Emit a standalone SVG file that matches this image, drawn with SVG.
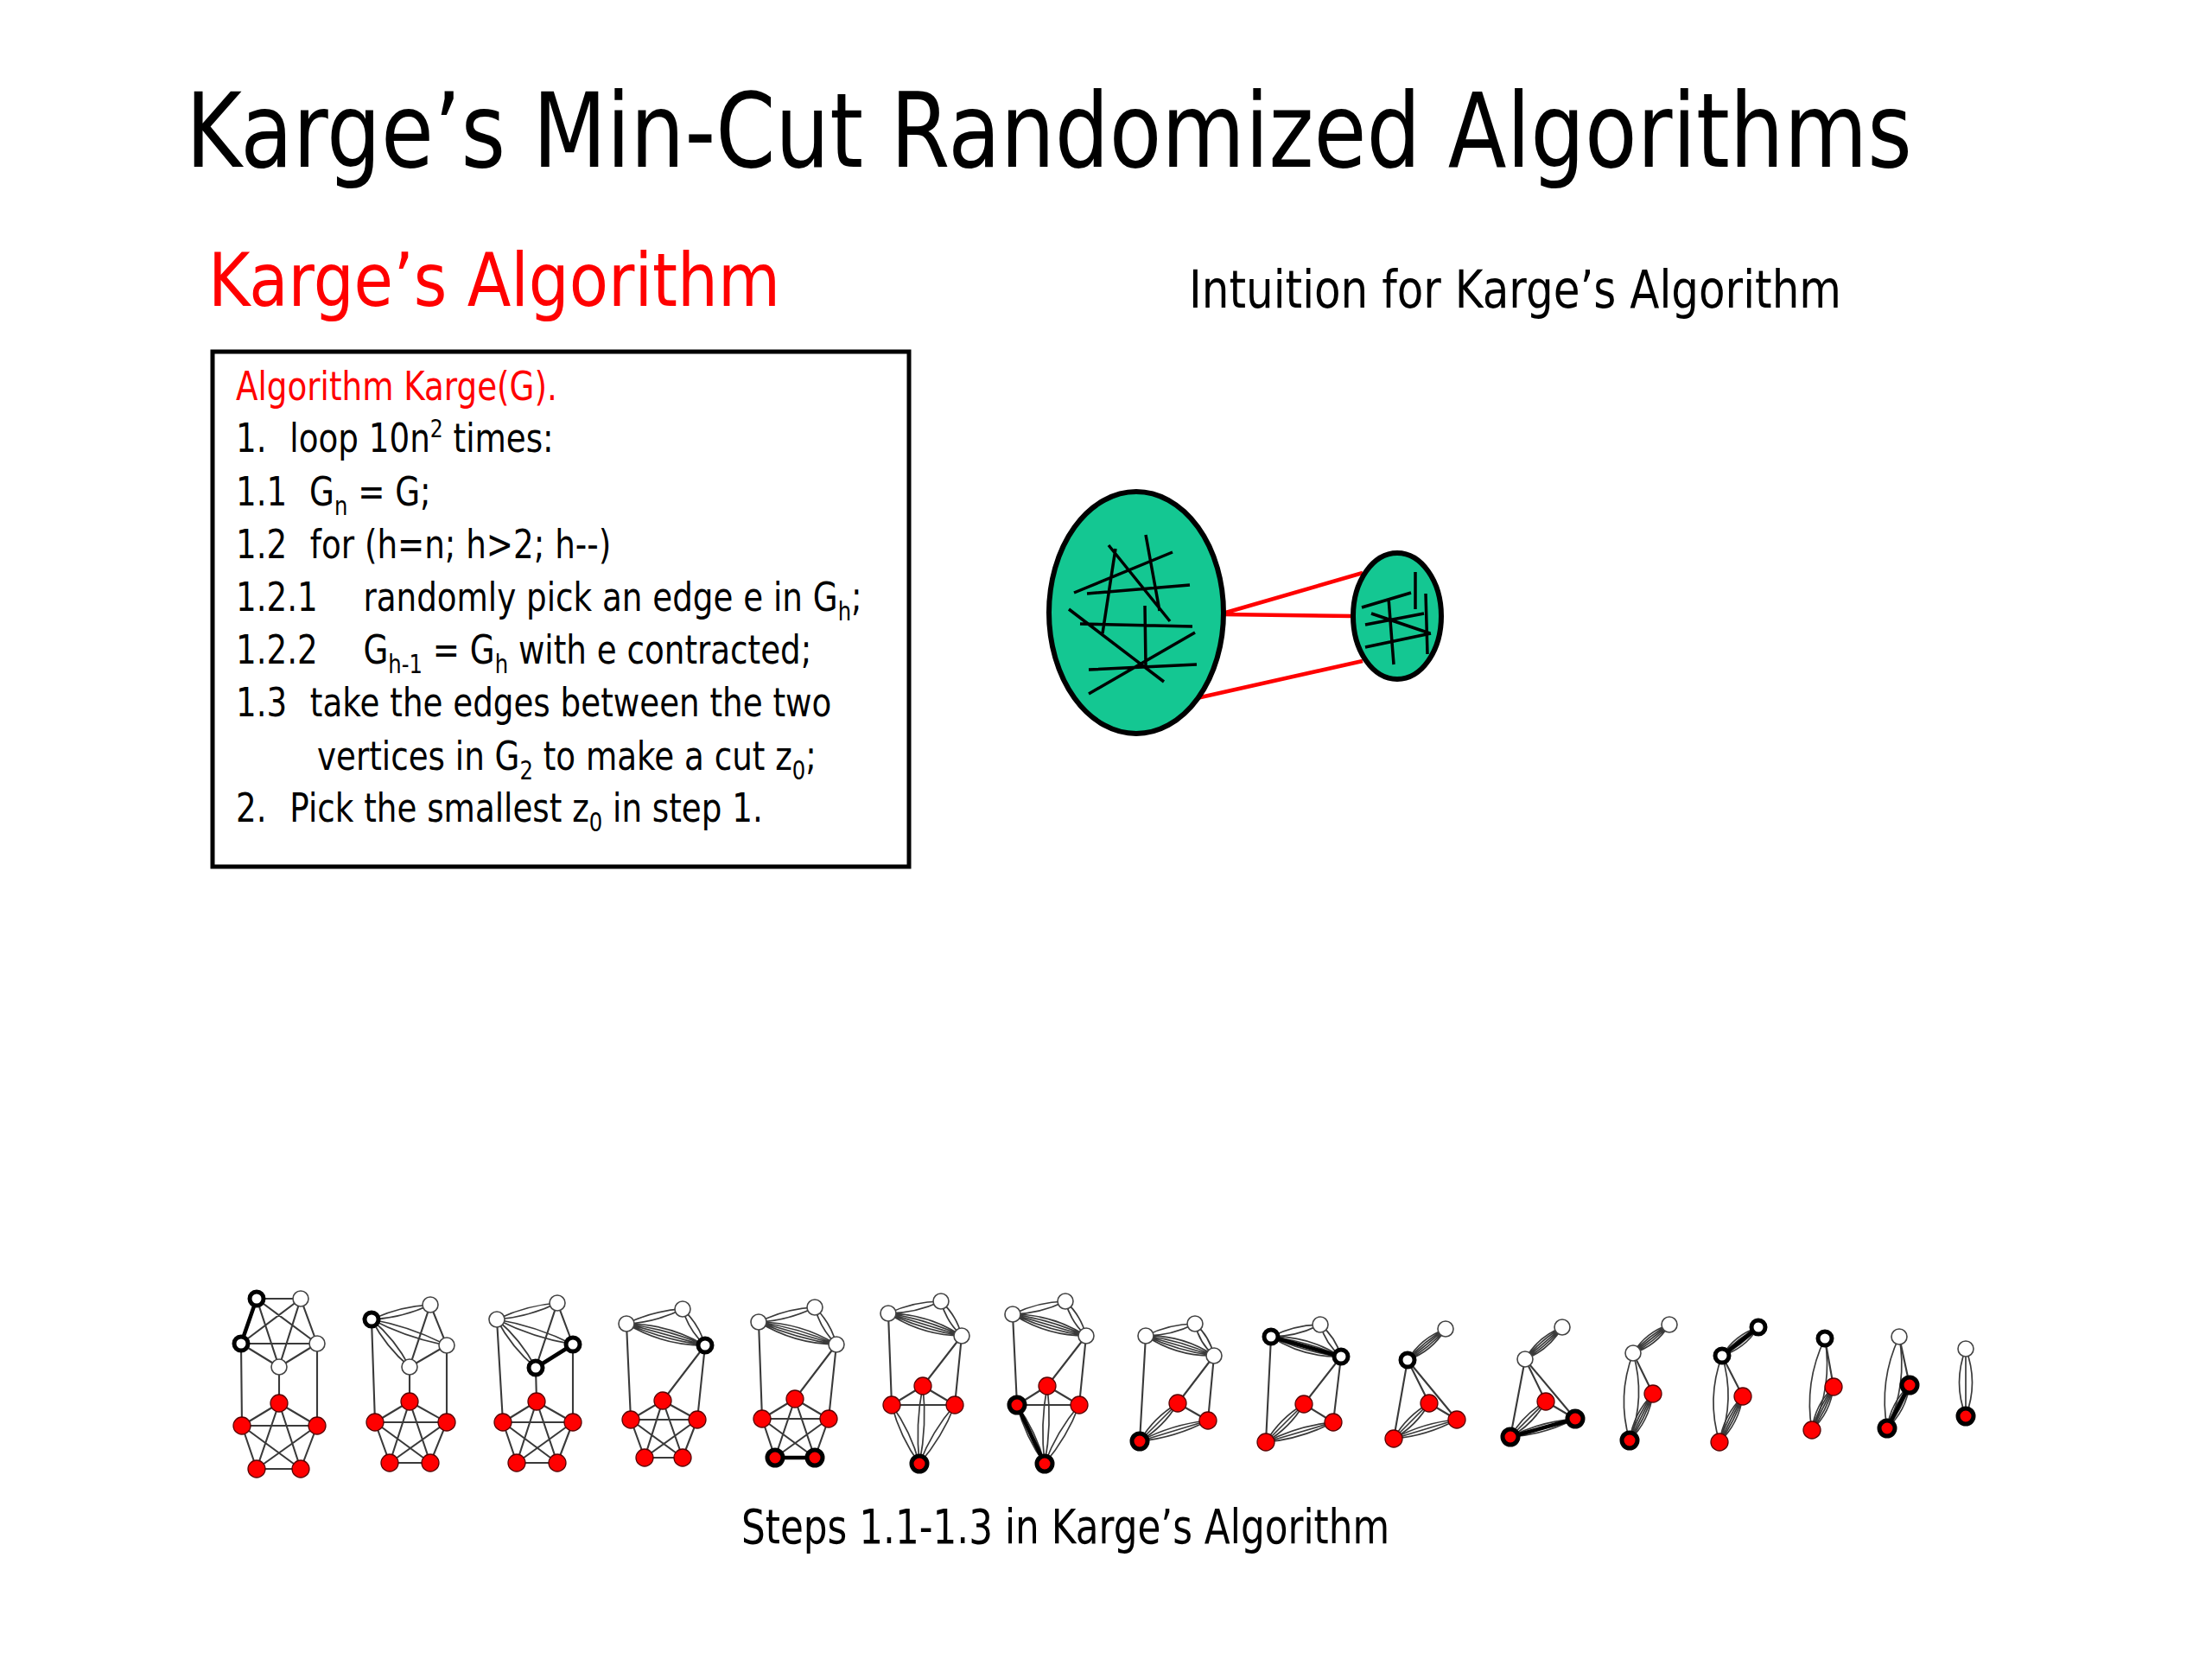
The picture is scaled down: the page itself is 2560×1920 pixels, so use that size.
<svg xmlns="http://www.w3.org/2000/svg" xmlns:xlink="http://www.w3.org/1999/xlink" width="2560" height="1920" viewBox="0 0 2560 1920">
<style>
text { font-family: 'DejaVu Sans', Verdana, sans-serif; }
.title { font-size: 120px; fill: #000; }
.red { fill: #ff0000; }
.box text { font-size: 46px; fill: #000; }
.sub { font-size: 30px; }
.sup { font-size: 29px; }
.e { fill: none; stroke: #3a3a3a; stroke-width: 2.1; }
.t { fill: none; stroke: #000; stroke-width: 4.5; stroke-linecap: round; }
.lp { fill: none; stroke: #3a3a3a; stroke-width: 1.7; vector-effect: non-scaling-stroke; }
.w { fill: #fff; stroke: #444; stroke-width: 1.6; }
.wt { fill: #fff; stroke: #000; stroke-width: 5; }
.r { fill: #ff0000; stroke: #5a0000; stroke-width: 1.3; }
.rt { fill: #ff0000; stroke: #000; stroke-width: 5; }
.scr { stroke: #000; stroke-width: 3.5; fill: none; }
.cut { stroke: #ff0000; stroke-width: 4.5; fill: none; }
.blob { fill: #14c792; stroke: #000; stroke-width: 6; }
</style>
<defs>
<path id="l2" class="lp" d="M0,0Q0.5,-7 1,0M0,0Q0.5,7 1,0"/>
<path id="l3" class="lp" d="M0,0Q0.5,-8 1,0M0,0L1,0M0,0Q0.5,8 1,0"/>
<path id="l4" class="lp" d="M0,0Q0.5,-13 1,0M0,0Q0.5,-6.5 1,0M0,0L1,0M0,0Q0.5,6.5 1,0M0,0Q0.5,13 1,0"/>
<path id="l5" class="lp" d="M0,0Q0.5,-10 1,0M0,0Q0.5,-5 1,0M0,0L1,0M0,0Q0.5,5 1,0M0,0Q0.5,10 1,0"/>
<path id="lw" class="lp" d="M0,0Q0.5,-17 1,0M0,0Q0.5,17 1,0"/>
<path id="lw3" class="lp" d="M0,0Q0.5,-15 1,0M0,0L1,0M0,0Q0.5,15 1,0"/>
</defs>
<rect width="2560" height="1920" fill="#fff"/>

<g id="headings">
<text class="title" transform="translate(215 193) scale(0.826 1)" x="0" y="0">Karge’s Min-Cut Randomized Algorithms</text>
<text class="red" x="241" y="354" font-size="86" textLength="662" lengthAdjust="spacingAndGlyphs">Karge’s Algorithm</text>
<text x="1376" y="356" font-size="60" textLength="755" lengthAdjust="spacingAndGlyphs">Intuition for Karge’s Algorithm</text>
<text x="858" y="1786" font-size="56" textLength="750" lengthAdjust="spacingAndGlyphs">Steps 1.1-1.3 in Karge’s Algorithm</text>
</g>

<g id="algorithm-box" class="box">
<rect x="246" y="407" width="806" height="596" fill="none" stroke="#000" stroke-width="5"/>
<g transform="matrix(0.81 0 0 1 51.87 0)">
<text class="red" x="273" y="463" style="fill:#ff0000">Algorithm Karge(G).</text>
<text x="273" y="523">1.</text>
<text x="350" y="523">loop 10n<tspan class="sup" dy="-17">2</tspan><tspan dy="17"> times:</tspan></text>
<text x="273" y="585">1.1</text>
<text x="378" y="585">G<tspan class="sub" dy="11">n</tspan><tspan dy="-11"> = G;</tspan></text>
<text x="273" y="646">1.2</text>
<text x="379" y="646">for (h=n; h&gt;2; h--)</text>
<text x="273" y="707">1.2.1</text>
<text x="455" y="707">randomly pick an edge e in G<tspan class="sub" dy="11">h</tspan><tspan dy="-11">;</tspan></text>
<text x="273" y="768">1.2.2</text>
<text x="455" y="768">G<tspan class="sub" dy="11">h-1</tspan><tspan dy="-11"> = G</tspan><tspan class="sub" dy="11">h</tspan><tspan dy="-11"> with e contracted;</tspan></text>
<text x="273" y="829">1.3</text>
<text x="379" y="829">take the edges between the two</text>
<text x="389" y="891">vertices in G<tspan class="sub" dy="11">2</tspan><tspan dy="-11"> to make a cut z</tspan><tspan class="sub" dy="11">0</tspan><tspan dy="-11">;</tspan></text>
<text x="273" y="951">2.</text>
<text x="350" y="951">Pick the smallest z<tspan class="sub" dy="11">0</tspan><tspan dy="-11"> in step 1.</tspan></text>
</g>
</g>

<g id="intuition">
<g id="cut-edges">
<path class="cut" d="M1415 710L1577 663M1415 711L1565 713M1385 808L1577 765"/>
</g>
<g id="cluster-large">
<ellipse class="blob" cx="1315" cy="709" rx="101" ry="140"/>
<path class="scr" d="M1243 686L1357 639M1258 687L1377 677M1283 631L1354 719M1291 635L1276 733M1326 619L1342 707M1237 705L1347 789M1250 722L1380 725M1325 701L1326 770M1260 803L1383 732M1260 775L1385 769"/>
</g>
<g id="cluster-small">
<ellipse class="blob" cx="1617" cy="713" rx="51" ry="73"/>
<path class="scr" d="M1576 703L1633 686M1638 662L1638 705M1580 723L1648 710M1587 710L1655 733M1580 749L1656 733M1607 692L1613 769M1650 687L1652 757"/>
</g>
</g>

<g id="connectors">
<!-- graph 1 -->
<path class="e" d="M297 1503L348 1503M297 1503L367 1555M297 1503L323 1582M348 1503L279 1555M348 1503L367 1555M348 1503L323 1582M279 1555L367 1555M279 1555L323 1582M367 1555L323 1582M279 1555L280 1650M367 1555L367 1650M323 1582L323 1624M323 1624L280 1650M323 1624L367 1650M323 1624L297 1700M323 1624L348 1700M280 1650L367 1650M280 1650L297 1700M280 1650L348 1700M367 1650L297 1700M367 1650L348 1700M297 1700L348 1700"/>
<path class="t" d="M297 1503L279 1555"/>
<!-- graph 2 -->
<use href="#l2" transform="translate(430 1527) rotate(-14) scale(70.1 1)"/>
<use href="#l2" transform="translate(430 1527) rotate(19) scale(92 1)"/>
<use href="#l2" transform="translate(430 1527) rotate(51.3) scale(70.4 1)"/>
<path class="e" d="M498 1510L517 1557M498 1510L474 1582M517 1557L474 1582M430 1527L434 1646M517 1557L517 1646M474 1582L474 1622M474 1622L434 1646M474 1622L517 1646M474 1622L451 1693M474 1622L498 1693M434 1646L517 1646M434 1646L451 1693M434 1646L498 1693M517 1646L451 1693M517 1646L498 1693M451 1693L498 1693"/>
<!-- graph 3 -->
<use href="#l2" transform="translate(575 1527) rotate(-15.2) scale(72.5 1)"/>
<use href="#l2" transform="translate(575 1527) rotate(18.2) scale(92.7 1)"/>
<use href="#l2" transform="translate(575 1527) rotate(51.2) scale(71.8 1)"/>
<path class="e" d="M645 1508L663 1556M645 1508L620 1583M575 1527L582 1646M663 1556L663 1646M620 1583L621 1622M621 1622L582 1646M621 1622L663 1646M621 1622L598 1693M621 1622L645 1693M582 1646L663 1646M582 1646L598 1693M582 1646L645 1693M663 1646L598 1693M663 1646L645 1693M598 1693L645 1693"/>
<path class="t" d="M663 1556L620 1583"/>
<!-- graph 4 -->
<use href="#l2" transform="translate(725 1532) rotate(-14.7) scale(67.2 1)"/>
<use href="#l4" transform="translate(725 1532) rotate(15.4) scale(94.4 1)"/>
<use href="#l2" transform="translate(790 1515) rotate(58.2) scale(49.4 1)"/>
<path class="e" d="M816 1557L767 1621M816 1557L807 1643M725 1532L730 1643M767 1621L730 1643M767 1621L807 1643M767 1621L746 1687M767 1621L790 1687M730 1643L807 1643M730 1643L746 1687M730 1643L790 1687M807 1643L746 1687M807 1643L790 1687M746 1687L790 1687"/>
<!-- graph 5 -->
<use href="#l2" transform="translate(878 1530) rotate(-14.7) scale(67.2 1)"/>
<use href="#l4" transform="translate(878 1530) rotate(16.1) scale(93.7 1)"/>
<use href="#l2" transform="translate(943 1513) rotate(59.8) scale(49.7 1)"/>
<path class="e" d="M968 1556L920 1619M968 1556L959 1642M878 1530L882 1642M920 1619L882 1642M920 1619L959 1642M920 1619L897 1687M920 1619L943 1687M882 1642L959 1642M882 1642L897 1687M882 1642L943 1687M959 1642L897 1687M959 1642L943 1687"/>
<path class="t" d="M897 1687L943 1687"/>
<!-- graph 6 -->
<use href="#l2" transform="translate(1028 1520) rotate(-12.9) scale(62.6 1)"/>
<use href="#l4" transform="translate(1028 1520) rotate(17) scale(88.9 1)"/>
<use href="#l2" transform="translate(1089 1506) rotate(59) scale(46.6 1)"/>
<use href="#l2" transform="translate(1068 1604) rotate(92.5) scale(90.1 1)"/>
<use href="#l2" transform="translate(1032 1626) rotate(64.8) scale(75.2 1)"/>
<use href="#l2" transform="translate(1105 1626) rotate(121.1) scale(79.4 1)"/>
<path class="e" d="M1028 1520L1032 1626M1113 1546L1068 1604M1113 1546L1105 1626M1068 1604L1032 1626M1068 1604L1105 1626M1032 1626L1105 1626"/>
<!-- graph 7 -->
<use href="#l2" transform="translate(1172 1521) rotate(-13.8) scale(62.8 1)"/>
<use href="#l4" transform="translate(1172 1521) rotate(16.4) scale(88.6 1)"/>
<use href="#l2" transform="translate(1233 1506) rotate(59) scale(46.6 1)"/>
<use href="#l2" transform="translate(1212 1604) rotate(91.9) scale(90 1)"/>
<use href="#l2" transform="translate(1177 1626) rotate(64.8) scale(75.2 1)"/>
<use href="#l2" transform="translate(1249 1626) rotate(120.5) scale(78.9 1)"/>
<path class="e" d="M1172 1521L1177 1626M1257 1546L1212 1604M1257 1546L1249 1626M1212 1604L1177 1626M1212 1604L1249 1626M1177 1626L1249 1626"/>
<path class="t" d="M1177 1626L1209 1694"/>
<!-- graph 8 -->
<use href="#l2" transform="translate(1326 1546) rotate(-13.8) scale(58.7 1)"/>
<use href="#l4" transform="translate(1326 1546) rotate(16.2) scale(82.3 1)"/>
<use href="#l2" transform="translate(1383 1532) rotate(59.3) scale(43 1)"/>
<use href="#l3" transform="translate(1319 1668) rotate(-45) scale(62.2 1)"/>
<use href="#l3" transform="translate(1319 1668) rotate(-16.9) scale(82.6 1)"/>
<path class="e" d="M1326 1546L1319 1668M1405 1569L1363 1624M1405 1569L1398 1644M1363 1624L1398 1644"/>
<!-- graph 9 -->
<use href="#l2" transform="translate(1471 1547) rotate(-13.8) scale(58.7 1)"/>
<use href="#l4" transform="translate(1471 1547) rotate(15.9) scale(84.2 1)"/>
<use href="#l2" transform="translate(1528 1533) rotate(57) scale(44.1 1)"/>
<use href="#l3" transform="translate(1465 1669) rotate(-45) scale(62.2 1)"/>
<use href="#l3" transform="translate(1465 1669) rotate(-16.4) scale(81.3 1)"/>
<path class="e" d="M1471 1547L1465 1669M1552 1570L1509 1625M1552 1570L1543 1646M1509 1625L1543 1646"/>
<path class="t" d="M1471 1547L1552 1570"/>
<!-- graph 10 -->
<use href="#l5" transform="translate(1629 1574) rotate(-39.3) scale(56.9 1)"/>
<use href="#l3" transform="translate(1613 1665) rotate(-45) scale(58 1)"/>
<use href="#l3" transform="translate(1613 1665) rotate(-16.8) scale(76.2 1)"/>
<path class="e" d="M1629 1574L1613 1665M1629 1574L1654 1624M1629 1574L1686 1643M1654 1624L1686 1643"/>
<!-- graph 11 -->
<use href="#l5" transform="translate(1765 1573) rotate(-40.7) scale(56.7 1)"/>
<use href="#l3" transform="translate(1748 1663) rotate(-45) scale(58 1)"/>
<use href="#l3" transform="translate(1748 1663) rotate(-15.6) scale(77.9 1)"/>
<path class="e" d="M1765 1573L1748 1663M1765 1573L1789 1622M1765 1573L1823 1642M1789 1622L1823 1642"/>
<path class="t" d="M1748 1663L1823 1642"/>
<!-- graph 12 -->
<use href="#l5" transform="translate(1890 1566) rotate(-38.2) scale(53.4 1)"/>
<use href="#lw" transform="translate(1890 1566) rotate(92.3) scale(101.1 1)"/>
<use href="#l5" transform="translate(1913 1613) rotate(116.6) scale(60.4 1)"/>
<path class="e" d="M1890 1566L1913 1613"/>
<!-- graph 13 -->
<use href="#l5" transform="translate(1993 1569) rotate(-38.2) scale(53.4 1)"/>
<use href="#lw" transform="translate(1993 1569) rotate(91.7) scale(100 1)"/>
<use href="#l5" transform="translate(2017 1616) rotate(117) scale(59.5 1)"/>
<path class="e" d="M1993 1569L2017 1616"/>
<path class="t" d="M1993 1569L2035 1536"/>
<!-- graph 14 -->
<use href="#lw" transform="translate(2112 1549) rotate(98.1) scale(107.1 1)"/>
<use href="#l5" transform="translate(2122 1605) rotate(116.6) scale(55.9 1)"/>
<path class="e" d="M2112 1549L2122 1605"/>
<!-- graph 15 -->
<use href="#lw" transform="translate(2198 1547) rotate(97.5) scale(106.9 1)"/>
<use href="#l5" transform="translate(2210 1603) rotate(117.5) scale(56.4 1)"/>
<path class="e" d="M2198 1547L2210 1603"/>
<path class="t" d="M2210 1603L2184 1653"/>
<!-- graph 16 -->
<use href="#lw3" transform="translate(2275 1561) rotate(90) scale(78 1)"/>
</g>

<g id="graph-nodes">
<g id="g1"><circle class="wt" cx="297" cy="1503" r="8"/><circle class="w" cx="348" cy="1503" r="9"/><circle class="wt" cx="279" cy="1555" r="8"/><circle class="w" cx="367" cy="1555" r="9"/><circle class="w" cx="323" cy="1582" r="9"/><circle class="r" cx="323" cy="1624" r="10"/><circle class="r" cx="280" cy="1650" r="10"/><circle class="r" cx="367" cy="1650" r="10"/><circle class="r" cx="297" cy="1700" r="10"/><circle class="r" cx="348" cy="1700" r="10"/></g>
<g id="g2"><circle class="wt" cx="430" cy="1527" r="8"/><circle class="w" cx="498" cy="1510" r="9"/><circle class="w" cx="517" cy="1557" r="9"/><circle class="w" cx="474" cy="1582" r="9"/><circle class="r" cx="474" cy="1622" r="10"/><circle class="r" cx="434" cy="1646" r="10"/><circle class="r" cx="517" cy="1646" r="10"/><circle class="r" cx="451" cy="1693" r="10"/><circle class="r" cx="498" cy="1693" r="10"/></g>
<g id="g3"><circle class="w" cx="575" cy="1527" r="9"/><circle class="w" cx="645" cy="1508" r="9"/><circle class="wt" cx="663" cy="1556" r="8"/><circle class="wt" cx="620" cy="1583" r="8"/><circle class="r" cx="621" cy="1622" r="10"/><circle class="r" cx="582" cy="1646" r="10"/><circle class="r" cx="663" cy="1646" r="10"/><circle class="r" cx="598" cy="1693" r="10"/><circle class="r" cx="645" cy="1693" r="10"/></g>
<g id="g4"><circle class="w" cx="725" cy="1532" r="9"/><circle class="w" cx="790" cy="1515" r="9"/><circle class="wt" cx="816" cy="1557" r="8"/><circle class="r" cx="767" cy="1621" r="10"/><circle class="r" cx="730" cy="1643" r="10"/><circle class="r" cx="807" cy="1643" r="10"/><circle class="r" cx="746" cy="1687" r="10"/><circle class="r" cx="790" cy="1687" r="10"/></g>
<g id="g5"><circle class="w" cx="878" cy="1530" r="9"/><circle class="w" cx="943" cy="1513" r="9"/><circle class="w" cx="968" cy="1556" r="9"/><circle class="r" cx="920" cy="1619" r="10"/><circle class="r" cx="882" cy="1642" r="10"/><circle class="r" cx="959" cy="1642" r="10"/><circle class="rt" cx="897" cy="1687" r="9"/><circle class="rt" cx="943" cy="1687" r="9"/></g>
<g id="g6"><circle class="w" cx="1028" cy="1520" r="9"/><circle class="w" cx="1089" cy="1506" r="9"/><circle class="w" cx="1113" cy="1546" r="9"/><circle class="r" cx="1068" cy="1604" r="10"/><circle class="r" cx="1032" cy="1626" r="10"/><circle class="r" cx="1105" cy="1626" r="10"/><circle class="rt" cx="1064" cy="1694" r="9"/></g>
<g id="g7"><circle class="w" cx="1172" cy="1521" r="9"/><circle class="w" cx="1233" cy="1506" r="9"/><circle class="w" cx="1257" cy="1546" r="9"/><circle class="r" cx="1212" cy="1604" r="10"/><circle class="rt" cx="1177" cy="1626" r="9"/><circle class="r" cx="1249" cy="1626" r="10"/><circle class="rt" cx="1209" cy="1694" r="9"/></g>
<g id="g8"><circle class="w" cx="1326" cy="1546" r="9"/><circle class="w" cx="1383" cy="1532" r="9"/><circle class="w" cx="1405" cy="1569" r="9"/><circle class="r" cx="1363" cy="1624" r="10"/><circle class="r" cx="1398" cy="1644" r="10"/><circle class="rt" cx="1319" cy="1668" r="9"/></g>
<g id="g9"><circle class="wt" cx="1471" cy="1547" r="8"/><circle class="w" cx="1528" cy="1533" r="9"/><circle class="wt" cx="1552" cy="1570" r="8"/><circle class="r" cx="1509" cy="1625" r="10"/><circle class="r" cx="1543" cy="1646" r="10"/><circle class="r" cx="1465" cy="1669" r="10"/></g>
<g id="g10"><circle class="w" cx="1673" cy="1538" r="9"/><circle class="wt" cx="1629" cy="1574" r="8"/><circle class="r" cx="1654" cy="1624" r="10"/><circle class="r" cx="1686" cy="1643" r="10"/><circle class="r" cx="1613" cy="1665" r="10"/></g>
<g id="g11"><circle class="w" cx="1808" cy="1536" r="9"/><circle class="w" cx="1765" cy="1573" r="9"/><circle class="r" cx="1789" cy="1622" r="10"/><circle class="rt" cx="1823" cy="1642" r="9"/><circle class="rt" cx="1748" cy="1663" r="9"/></g>
<g id="g12"><circle class="w" cx="1932" cy="1533" r="9"/><circle class="w" cx="1890" cy="1566" r="9"/><circle class="r" cx="1913" cy="1613" r="10"/><circle class="rt" cx="1886" cy="1667" r="9"/></g>
<g id="g13"><circle class="wt" cx="2035" cy="1536" r="8"/><circle class="wt" cx="1993" cy="1569" r="8"/><circle class="r" cx="2017" cy="1616" r="10"/><circle class="r" cx="1990" cy="1669" r="10"/></g>
<g id="g14"><circle class="wt" cx="2112" cy="1549" r="8"/><circle class="r" cx="2122" cy="1605" r="10"/><circle class="r" cx="2097" cy="1655" r="10"/></g>
<g id="g15"><circle class="w" cx="2198" cy="1547" r="9"/><circle class="rt" cx="2210" cy="1603" r="9"/><circle class="rt" cx="2184" cy="1653" r="9"/></g>
<g id="g16"><circle class="w" cx="2275" cy="1561" r="9"/><circle class="rt" cx="2275" cy="1639" r="9"/></g>
</g>
</svg>
